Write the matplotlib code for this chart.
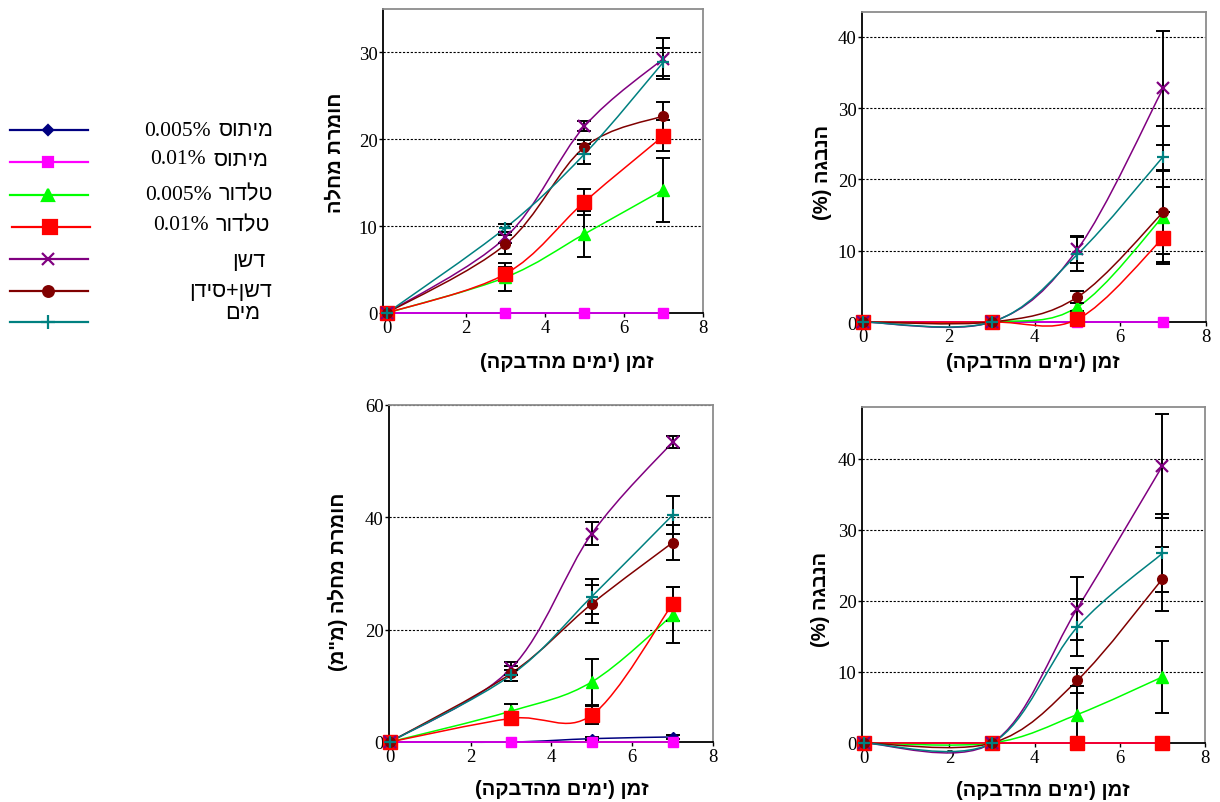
import numpy as np
import matplotlib
matplotlib.use("Agg")
import matplotlib.pyplot as plt
from matplotlib.path import Path
from matplotlib.patches import PathPatch

# days after inoculation
days = [0, 3, 5, 7]

series_names = ["מיתוס", "מיתוס", "טלדור", "טלדור", "דשן", "דשן+סידן", "מים"]
series_conc = ["0.005%", "0.01%", "0.005%", "0.01%", "", "", ""]
colors = ["#000080", "#FF00FF", "#00FF00", "#FF0000", "#800080", "#800000", "#008080"]
markers = ["D", "s", "^", "s", "x", "o", "+"]
msizes = [5, 6.5, 8, 10.5, 8, 7, 9]

# top-left: disease severity
sev1 = [
    [0, 0, 0, 0],
    [0, 0, 0, 0],
    [0, 4.1, 9.1, 14.2],
    [0, 4.5, 12.8, 20.4],
    [0, 8.7, 21.5, 29.3],
    [0, 7.9, 19.1, 22.7],
    [0, 9.8, 18.3, 28.9],
]
sev1_err = [
    [0, 0, 0, 0],
    [0, 0, 0, 0],
    [0, 1.6, 2.7, 3.7],
    [0, 0.8, 1.5, 1.8],
    [0, 0.6, 0.6, 2.4],
    [0, 1.1, 0.8, 1.6],
    [0, 0.5, 1.1, 1.6],
]

# top-right: sporulation (%)
spo1 = [
    [0, 0, 0, 0],
    [0, 0, 0, 0],
    [0, 0, 2.1, 14.8],
    [0, 0, 0.4, 11.8],
    [0, 0, 10.2, 32.8],
    [0, 0, 3.5, 15.4],
    [0, 0, 9.5, 23.2],
]
spo1_err = [
    [0, 0, 0, 0],
    [0, 0, 0, 0],
    [0, 0, 0.5, 6.4],
    [0, 0, 0, 3.6],
    [0, 0, 1.9, 8.0],
    [0, 0, 0.9, 5.9],
    [0, 0, 2.4, 4.3],
]

# bottom-left: disease severity (mm)
sev2 = [
    [0, 0, 0.6, 0.9],
    [0, 0, 0, 0],
    [0, 5.5, 10.7, 22.6],
    [0, 4.2, 4.8, 24.6],
    [0, 13.1, 37.1, 53.4],
    [0, 12.2, 24.6, 35.5],
    [0, 11.9, 25.9, 40.4],
]
sev2_err = [
    [0, 0, 0.3, 0.4],
    [0, 0, 0, 0],
    [0, 1.2, 4.1, 5.0],
    [0, 0, 1.6, 3.0],
    [0, 1.2, 2.0, 1.1],
    [0, 1.3, 3.4, 3.1],
    [0, 1.0, 3.1, 3.4],
]

# bottom-right: sporulation (%)
spo2 = [
    [0, 0, 0, 0],
    [0, 0, 0, 0],
    [0, 0, 4.0, 9.3],
    [0, 0, 0, 0],
    [0, 0, 18.9, 39.0],
    [0, 0, 8.8, 23.1],
    [0, 0, 16.3, 26.7],
]
spo2_err = [
    [0, 0, 0, 0],
    [0, 0, 0, 0],
    [0, 0, 4.0, 5.1],
    [0, 0, 0, 0],
    [0, 0, 4.4, 7.3],
    [0, 0, 1.8, 4.5],
    [0, 0, 4.0, 5.5],
]

xlabel = "זמן (ימים מהדבקה)"
ylabel_sev = "חומרת מחלה"
ylabel_sev_mm = 'חומרת מחלה (מ"מ)'
ylabel_spo = "הנבגה (%)"

HEB = ["Liberation Sans", "DejaVu Sans"]
SERIF = ["Liberation Serif", "DejaVu Serif"]


def visual(s):
    # matplotlib has no bidi: put hebrew in display order by hand
    r = s[::-1].translate(str.maketrans("()", ")("))
    toks = [t[::-1] if any(c.isdigit() for c in t) else t for t in r.split(" ")]
    return " ".join(toks)


def smooth_path(xs, ys):
    # excel-like smoothed line, bezier through the points
    pts = np.column_stack([xs, ys]).astype(float)
    n = len(pts)
    verts = [pts[0]]
    codes = [Path.MOVETO]
    for i in range(n - 1):
        p0 = pts[i - 1] if i > 0 else pts[i]
        p1 = pts[i]
        p2 = pts[i + 1]
        p3 = pts[i + 2] if i + 2 < n else pts[i + 1]
        verts += [p1 + (p2 - p0) / 6, p2 - (p3 - p1) / 6, p2]
        codes += [Path.CURVE4] * 3
    return Path(verts, codes)


def panel(rect, vals, errs, xlim, ylim, yticks, ylab, xlab_pos, ylab_pos):
    ax = fig.add_axes(rect)
    x = np.array(days)
    for k in range(len(vals)):
        y = np.array(vals[k], dtype=float)
        e = np.array(errs[k], dtype=float)
        ax.add_patch(PathPatch(smooth_path(x, y), fc="none", ec=colors[k],
                               lw=1.1, zorder=3 + k * 0.1, clip_on=False))
        m = e > 0
        if m.any():
            ax.errorbar(x[m], y[m], yerr=e[m], fmt="none", ecolor="black",
                        elinewidth=1.4, capsize=5, capthick=1.4, zorder=5)
        ax.plot(x, y, ls="none", marker=markers[k], ms=msizes[k], color=colors[k],
                mew=1.6 if markers[k] in "x+" else 1, clip_on=False, zorder=6 + k * 0.1)
    ax.set_xlim(*xlim)
    ax.set_ylim(*ylim)
    ax.set_xticks([0, 2, 4, 6, 8])
    ax.set_yticks(yticks)
    for t in yticks:
        if t > 0:
            ax.axhline(t, color="black", lw=0.8, ls=(0, (2, 1.5)), zorder=1)
    for s in ["left", "bottom"]:
        ax.spines[s].set_color("black")
        ax.spines[s].set_linewidth(1.3)
    for s in ["top", "right"]:
        ax.spines[s].set_color("#8c8c8c")
        ax.spines[s].set_linewidth(1.3)
    ax.tick_params(axis="both", direction="out", length=3, width=1, pad=1,
                   labelsize=13.5)
    for lab in ax.get_xticklabels() + ax.get_yticklabels():
        lab.set_family(SERIF)
    ax.set_xlabel(visual(xlabel), family=HEB, fontsize=14.5, fontweight="bold", va="center")
    ax.xaxis.set_label_coords(*xlab_pos)
    ax.set_ylabel(visual(ylab), family=HEB, fontsize=14.5, fontweight="bold", va="center")
    ax.yaxis.set_label_coords(*ylab_pos)
    return ax


W, H = 1220, 803
fig = plt.figure(figsize=(W / 100, H / 100), dpi=100)


def rect(l, t, r, b):
    return [l / W, (H - b) / H, (r - l) / W, (b - t) / H]


panel(rect(383, 10, 703, 314), sev1, sev1_err, (-0.1, 8), (0, 35), [0, 10, 20, 30],
      ylabel_sev, (0.575, -0.158), (-0.15, 0.53))
panel(rect(862, 13, 1206, 323), spo1, spo1_err, (-0.03, 8), (0, 43.5), [0, 10, 20, 30, 40],
      ylabel_spo, (0.497, -0.126), (-0.116, 0.487))
panel(rect(389, 406, 713, 743), sev2, sev2_err, (-0.02, 8), (0, 60), [0, 20, 40, 60],
      ylabel_sev_mm, (0.534, -0.139), (-0.157, 0.478))
panel(rect(862, 408, 1205, 744), spo2, spo2_err, (-0.05, 8), (0, 47.3), [0, 10, 20, 30, 40],
      ylabel_spo, (0.528, -0.137), (-0.122, 0.43))

# legend drawn by hand on an overlay in pixel units
leg = fig.add_axes([0, 0, 1, 1], zorder=-1)
leg.set_xlim(0, W)
leg.set_ylim(H, 0)
leg.axis("off")
row_y = [131, 163, 196, 228, 260, 292, 323]
text_y = [131, 160, 195, 226, 262, 292, 314]
text_r = [273, 268, 273, 270, 265, 272, 260]
for k in range(len(series_names)):
    x0 = 12 if k == 3 else 10
    leg.plot([x0, x0 + 78], [row_y[k], row_y[k]], color=colors[k], lw=1.6)
    leg.plot([x0 + 38], [row_y[k]], marker=markers[k], color=colors[k],
             ms=msizes[k] * (1.0 if k == 3 else 1.1), mew=1.6)
    ht = leg.text(text_r[k], text_y[k], visual(series_names[k]), family=HEB,
                  fontsize=15.5, ha="right", va="center")
    if series_conc[k]:
        leg.annotate(series_conc[k], xy=(0, 0.5), xycoords=ht, xytext=(-5, 0),
                     textcoords="offset points", ha="right", va="center",
                     family=SERIF, fontsize=15.5)

fig.savefig("out.png", dpi=100)
